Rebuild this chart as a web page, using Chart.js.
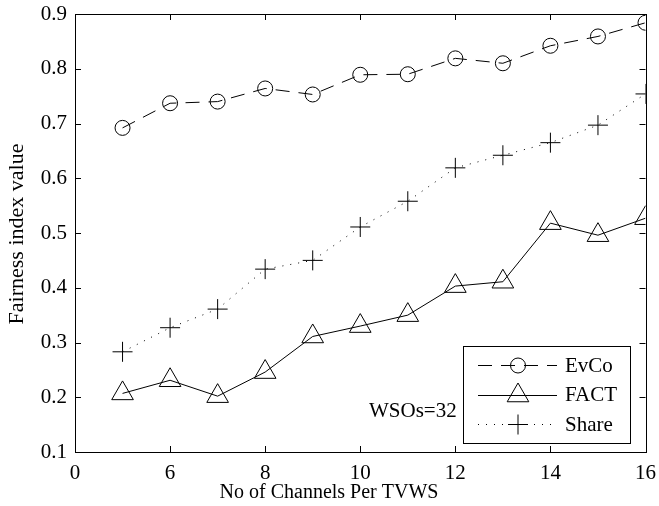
<!DOCTYPE html>
<html>
<head>
<meta charset="utf-8">
<script src="https://cdn.jsdelivr.net/npm/chart.js@4"></script>
<style>
  html, body { margin: 0; padding: 0; background: #fff; }
  #wrap { width: 659px; height: 506px; }
</style>
</head>
<body>
<div id="wrap"><canvas id="chart" width="659" height="506"></canvas></div>
<script>
// Fairness index vs channels per TVWS

const channels = [5, 6, 7, 8, 9, 10, 11, 12, 13, 14, 15, 16];
const evcoValues = [0.692, 0.737, 0.740, 0.764, 0.753, 0.789, 0.790, 0.819, 0.810, 0.842, 0.859, 0.884];
const factValues = [0.207, 0.231, 0.202, 0.246, 0.311, 0.330, 0.350, 0.403, 0.411, 0.518, 0.496, 0.527];
const shareValues = [0.283, 0.327, 0.361, 0.434, 0.450, 0.511, 0.558, 0.619, 0.642, 0.665, 0.697, 0.754];

// x tick positions and the labels printed under them
const xTicks = [4, 6, 8, 10, 12, 14, 16];
const xTickLabels = ['0', '6', '8', '10', '12', '14', '16'];
const yTicks = [0.1, 0.2, 0.3, 0.4, 0.5, 0.6, 0.7, 0.8, 0.9];

const FONT = "'Liberation Serif', 'Times New Roman', serif";

function toPoints(vals) {
  return channels.map((c, i) => ({ x: c, y: vals[i] }));
}

// Inward ticks on all four sides plus the box
const boxTicks = {
  id: 'boxTicks',
  afterDatasetsDraw(chart) {
    const { ctx, chartArea: a, scales } = chart;
    const len = 6;
    ctx.save();
    ctx.strokeStyle = '#000';
    ctx.lineWidth = 1;
    ctx.strokeRect(Math.round(a.left) + 0.5, Math.round(a.top) + 0.5,
      Math.round(a.right - a.left), Math.round(a.bottom - a.top));
    ctx.beginPath();
    xTicks.forEach(v => {
      const x = Math.round(scales.x.getPixelForValue(v)) + 0.5;
      ctx.moveTo(x, a.bottom); ctx.lineTo(x, a.bottom - len);
      ctx.moveTo(x, a.top); ctx.lineTo(x, a.top + len);
    });
    yTicks.forEach(v => {
      const y = Math.round(scales.y.getPixelForValue(v)) + 0.5;
      ctx.moveTo(a.left, y); ctx.lineTo(a.left + len, y);
      ctx.moveTo(a.right, y); ctx.lineTo(a.right - len, y);
    });
    ctx.stroke();
    ctx.restore();
  }
};

// Axis titles, boxed legend in lower right, and the WSOs note
const annotations = {
  id: 'annotations',
  afterDraw(chart) {
    const { ctx } = chart;
    ctx.save();
    ctx.fillStyle = '#000';
    ctx.textAlign = 'center';
    ctx.textBaseline = 'middle';
    ctx.font = '20px ' + FONT;
    ctx.fillText('No of Channels Per TVWS', 329, 493);
    ctx.save();
    ctx.translate(17, 234);
    ctx.rotate(-Math.PI / 2);
    ctx.font = '22px ' + FONT;
    ctx.fillText('Fairness index value', 0, 0);
    ctx.restore();

    const bx = 463, by = 346, bw = 167, bh = 97;
    ctx.fillStyle = '#fff';
    ctx.fillRect(bx, by, bw, bh);
    ctx.strokeStyle = '#000';
    ctx.lineWidth = 1;
    ctx.strokeRect(bx + 0.5, by + 0.5, bw, bh);
    chart.data.datasets.forEach((ds, i) => {
      const y = by + 19 + i * 29.5;
      ctx.save();
      ctx.strokeStyle = '#000';
      ctx.lineWidth = 1;
      ctx.setLineDash(ds.borderDash || []);
      ctx.beginPath();
      ctx.moveTo(478, Math.round(y) + 0.5);
      ctx.lineTo(557, Math.round(y) + 0.5);
      ctx.stroke();
      ctx.restore();
      ctx.save();
      ctx.fillStyle = 'rgba(0,0,0,0)';
      ctx.strokeStyle = '#000';
      Chart.helpers.drawPoint(ctx, {
        pointStyle: ds.pointStyle,
        radius: ds.pointRadius,
        borderWidth: 1,
        rotation: 0
      }, 518, Math.round(y) + 0.5);
      ctx.restore();
      ctx.fillStyle = '#000';
      ctx.font = '21px ' + FONT;
      ctx.textBaseline = 'middle';
      ctx.textAlign = 'left';
      ctx.fillText(ds.label, 565, y + 1);
    });
    ctx.fillStyle = '#000';
    ctx.font = '21px ' + FONT;
    ctx.textAlign = 'left';
    ctx.textBaseline = 'middle';
    ctx.fillText('WSOs=32', 369, 411);
    ctx.restore();
  }
};

const ctx = document.getElementById('chart').getContext('2d');
new Chart(ctx, {
  type: 'line',
  data: {
    datasets: [
      {
        label: 'EvCo',
        data: toPoints(evcoValues),
        borderColor: '#000',
        borderWidth: 1,
        borderDash: [14, 9],
        pointStyle: 'circle',
        pointRadius: 7.5,
        pointBorderColor: '#000',
        pointBackgroundColor: 'rgba(0,0,0,0)',
        pointBorderWidth: 1
      },
      {
        label: 'FACT',
        data: toPoints(factValues),
        borderColor: '#000',
        borderWidth: 1,
        pointStyle: 'triangle',
        pointRadius: 12.5,
        pointBorderColor: '#000',
        pointBackgroundColor: 'rgba(0,0,0,0)',
        pointBorderWidth: 1
      },
      {
        label: 'Share',
        data: toPoints(shareValues),
        borderColor: '#000',
        borderWidth: 1,
        borderDash: [1, 7],
        pointStyle: 'cross',
        pointRadius: 10,
        pointBorderColor: '#000',
        pointBorderWidth: 1
      }
    ]
  },
  options: {
    responsive: false,
    animation: false,
    layout: { padding: { top: 14, right: 13, left: 0, bottom: 0 } },
    plugins: {
      legend: { display: false },
      tooltip: { enabled: false }
    },
    scales: {
      x: {
        type: 'linear',
        min: 4,
        max: 16,
        afterBuildTicks: (scale) => { scale.ticks = xTicks.map(v => ({ value: v })); },
        afterFit: (scale) => {
          scale.height = 54;
          scale.paddingLeft = 0;
          scale.paddingRight = 0;
        },
        grid: { display: false, drawTicks: false },
        border: { display: false },
        ticks: {
          color: '#000',
          padding: 9,
          maxRotation: 0,
          font: { family: FONT, size: 21 },
          callback: (v) => xTickLabels[xTicks.indexOf(v)]
        }
      },
      y: {
        type: 'linear',
        min: 0.1,
        max: 0.9,
        afterBuildTicks: (scale) => { scale.ticks = yTicks.map(v => ({ value: v })); },
        afterFit: (scale) => {
          scale.width = 75;
          scale.paddingTop = 0;
          scale.paddingBottom = 0;
        },
        grid: { display: false, drawTicks: false },
        border: { display: false },
        ticks: {
          color: '#000',
          padding: 8,
          font: { family: FONT, size: 21 },
          callback: (v) => v.toFixed(1)
        }
      }
    }
  },
  plugins: [boxTicks, annotations]
});
</script>
</body>
</html>
